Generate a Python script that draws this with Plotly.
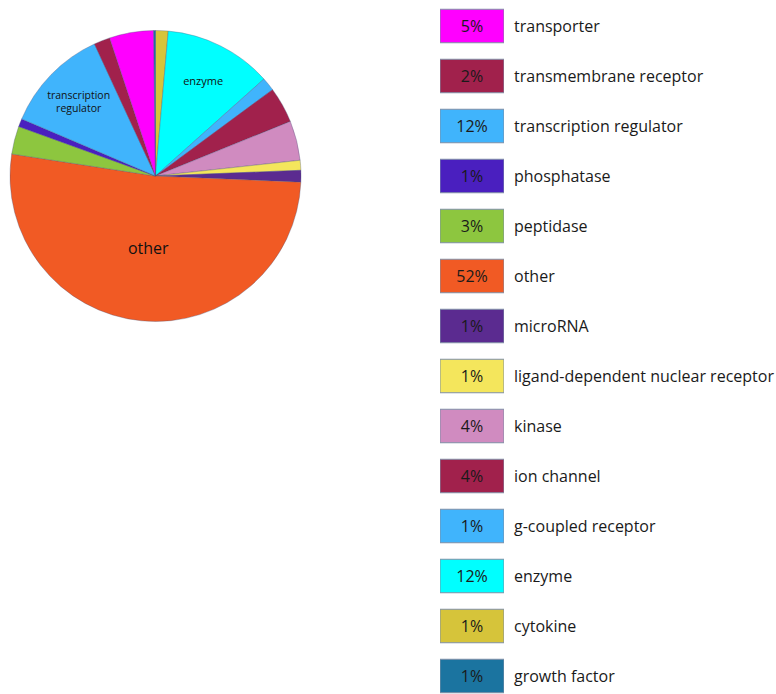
import plotly.graph_objects as go

# Pie data (order clockwise from 12 o'clock)
categories = ["cytokine", "enzyme", "g-coupled receptor", "ion channel", "kinase",
              "ligand-dependent nuclear receptor", "microRNA", "other", "peptidase",
              "phosphatase", "transcription regulator", "transmembrane receptor",
              "transporter", "growth factor"]
values = [1.4, 12.0, 1.5, 4.0, 4.4, 1.1, 1.3, 51.8, 3.1, 0.9, 11.7, 1.8, 4.9, 0.2]
colors = ["#d6c43a", "#00ffff", "#40b4fc", "#a1214c", "#d08bc0", "#f4e65c", "#5b2b90",
          "#f15a24", "#8dc63f", "#4a1fbf", "#40b4fc", "#a1214c", "#ff00ff", "#1b74a0"]
slice_text = ["", "enzyme", "", "", "", "", "", "other", "", "",
              "transcription<br>regulator", "", "", ""]
slice_text_size = [11, 11, 11, 11, 11, 11, 11, 16, 11, 11, 10.5, 11, 11, 11]

# Legend data (top to bottom)
legend_labels = ["transporter", "transmembrane receptor", "transcription regulator",
                 "phosphatase", "peptidase", "other", "microRNA",
                 "ligand-dependent nuclear receptor", "kinase", "ion channel",
                 "g-coupled receptor", "enzyme", "cytokine", "growth factor"]
legend_pct = ["5%", "2%", "12%", "1%", "3%", "52%", "1%", "1%", "4%", "4%",
              "1%", "12%", "1%", "1%"]
legend_colors = ["#ff00ff", "#a1214c", "#40b4fc", "#4a1fbf", "#8dc63f", "#f15a24",
                 "#5b2b90", "#f4e65c", "#d08bc0", "#a1214c", "#40b4fc", "#00ffff",
                 "#d6c43a", "#1b74a0"]

W, H = 776, 694
FONT = "Open Sans"

fig = go.Figure()

fig.add_trace(go.Pie(
    labels=categories, values=values, sort=False, direction="clockwise", rotation=0,
    marker=dict(colors=colors, line=dict(color="rgba(70,80,120,0.55)", width=0.6)),
    text=slice_text, textinfo="text", textposition="inside",
    insidetextorientation="horizontal",
    textfont=dict(family=FONT, size=slice_text_size, color="#111111"),
    domain=dict(x=[10 / W, 301 / W], y=[1 - 321.5 / H, 1 - 30.5 / H]),
    showlegend=False, hoverinfo="label+percent",
))

fig.add_trace(go.Bar(
    y=legend_labels, x=[1] * len(legend_labels), orientation="h",
    marker=dict(color=legend_colors, line=dict(color="#7f8fa6", width=1)),
    width=0.67, text=legend_pct, textposition="inside", insidetextanchor="middle",
    textfont=dict(family=FONT, size=16, color="#1a1a1a"),
    xaxis="x", yaxis="y", showlegend=False, hoverinfo="y",
))

fig.update_layout(
    width=W, height=H, margin=dict(l=0, r=0, t=0, b=0),
    paper_bgcolor="white", plot_bgcolor="white",
    font=dict(family=FONT, size=16, color="#1a1a1a"),
    xaxis=dict(domain=[440 / W, 504 / W], range=[0, 1],
               visible=False, fixedrange=True),
    yaxis=dict(domain=[0, 1], type="category",
               range=[13 + (H - 676) / 50, -26 / 50], side="right",
               showgrid=False, zeroline=False, showline=False, ticks="",
               ticklabelstandoff=9, tickfont=dict(family=FONT, size=16, color="#1a1a1a")),
)

fig.write_html("out.html", config={"displayModeBar": False},
               post_script="document.body.style.margin='0';document.body.style.overflow='hidden';")
